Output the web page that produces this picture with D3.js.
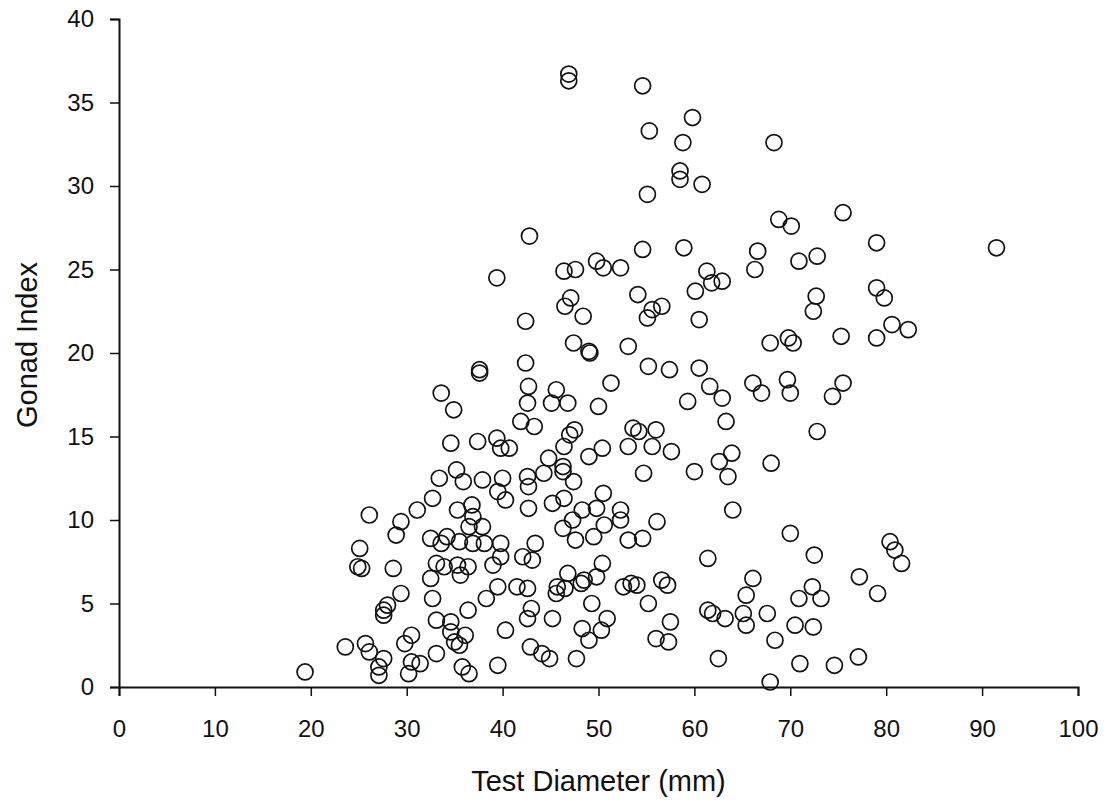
<!DOCTYPE html>
<html>
<head>
<meta charset="utf-8">
<script src="https://cdn.jsdelivr.net/npm/d3@7"></script>
<style>
  html, body { margin: 0; padding: 0; background: #fff; }
  svg { display: block; }
  text { font-family: "Liberation Sans", Arial, sans-serif; fill: #111; }
</style>
</head>
<body>
<svg id="chart" width="1107" height="807"></svg>
<script>
// Test diameter (mm) of each urchin
const testDiameter = [
  19.4,23.6,25.7,26.1,27.6,27.1,27.1,30.5,29.8,30.5,31.4,30.2,33.1,28.0,27.6,27.6,29.4,32.7,33.1,32.5,
  28.6,25.1,24.9,25.3,33.1,32.5,33.6,28.9,29.4,26.1,31.1,32.7,33.4,33.6,
  42.8,39.4,42.4,42.4,37.6,37.6,42.7,45.6,
  46.9,46.9,54.6,59.8,55.3,58.8,68.3,58.5,58.5,60.8,55.1,68.8,70.1,54.6,58.9,66.6,66.3,70.9,46.4,47.6,
  49.8,50.5,52.3,61.3,61.8,62.9,60.1,54.1,47.1,46.5,48.4,55.6,56.6,55.1,60.5,47.4,49.0,49.1,53.1,67.9,
  69.8,70.3,55.2,57.4,60.5,51.3,61.6,66.1,69.7,
  75.5,79.0,91.5,72.8,72.7,72.4,79.0,79.8,80.6,82.3,75.3,79.0,75.5,
  34.9,42.6,45.1,46.8,50.0,59.3,41.9,43.3,34.6,37.4,39.4,39.8,40.7,47.5,47.0,46.4,49.0,50.4,53.6,54.2,
  56.0,53.1,55.6,57.6,44.8,46.3,46.3,44.3,47.4,54.7,60.0,35.2,35.9,37.9,40.0,39.5,40.3,42.6,42.7,42.7,
  35.3,36.8,36.9,36.5,37.9,45.2,46.4,50.5,49.8,48.3,47.3,46.3,47.6,49.5,50.6,52.3,52.3,56.1,53.1,54.6,
  34.2,35.5,36.9,38.1,39.8,43.4,42.1,43.1,39.8,39.0,33.9,35.3,36.4,35.6,50.4,46.8,49.8,48.5,48.2,45.7,
  45.6,46.5,41.5,42.6,39.5,38.3,52.6,53.4,54.0,56.6,57.2,49.3,55.2,36.4,43.0,42.6,45.2,34.6,34.6,36.1,
  35.0,35.5,40.3,48.3,50.9,50.3,49.0,57.5,56.0,57.3,42.9,44.1,44.9,47.7,39.5,35.8,36.5,
  62.9,67.0,70.0,74.4,63.3,72.8,63.9,62.6,63.5,68.0,64.0,70.0,61.4,72.5,80.4,80.9,81.6,77.2,79.1,66.1,
  65.4,65.1,65.4,61.4,61.9,63.2,67.6,70.9,72.3,73.2,70.5,72.4,68.4,62.5,71.0,74.6,77.1,67.9
];
// Gonad index of each urchin (same order)
const gonadIndex = [
  0.9,2.4,2.6,2.1,1.7,1.2,0.7,3.1,2.6,1.5,1.4,0.8,2.0,4.9,4.6,4.3,5.6,5.3,4.0,6.5,
  7.1,8.3,7.2,7.1,7.4,8.9,8.6,9.1,9.9,10.3,10.6,11.3,12.5,17.6,
  27.0,24.5,21.9,19.4,19.0,18.8,18.0,17.8,
  36.7,36.3,36.0,34.1,33.3,32.6,32.6,30.9,30.4,30.1,29.5,28.0,27.6,26.2,26.3,26.1,25.0,25.5,24.9,25.0,
  25.5,25.1,25.1,24.9,24.2,24.3,23.7,23.5,23.3,22.8,22.2,22.6,22.8,22.1,22.0,20.6,20.1,20.0,20.4,20.6,
  20.9,20.6,19.2,19.0,19.1,18.2,18.0,18.2,18.4,
  28.4,26.6,26.3,25.8,23.4,22.5,23.9,23.3,21.7,21.4,21.0,20.9,18.2,
  16.6,17.0,17.0,17.0,16.8,17.1,15.9,15.6,14.6,14.7,14.9,14.3,14.3,15.4,15.1,14.4,13.8,14.3,15.5,15.3,
  15.4,14.4,14.4,14.1,13.7,13.2,12.9,12.8,12.3,12.8,12.9,13.0,12.3,12.4,12.5,11.7,11.2,12.6,12.0,10.7,
  10.6,10.9,10.2,9.6,9.6,11.0,11.3,11.6,10.7,10.6,10.0,9.5,8.8,9.0,9.7,10.6,10.0,9.9,8.8,8.9,
  9.0,8.7,8.6,8.6,8.6,8.6,7.8,7.6,7.8,7.3,7.2,7.3,7.2,6.7,7.4,6.8,6.6,6.4,6.2,6.0,
  5.6,5.9,6.0,5.9,6.0,5.3,6.0,6.2,6.1,6.4,6.1,5.0,5.0,4.6,4.7,4.1,4.1,3.9,3.3,3.1,
  2.7,2.5,3.4,3.5,4.1,3.4,2.8,3.9,2.9,2.7,2.4,2.0,1.7,1.7,1.3,1.2,0.8,
  17.3,17.6,17.6,17.4,15.9,15.3,14.0,13.5,12.6,13.4,10.6,9.2,7.7,7.9,8.7,8.2,7.4,6.6,5.6,6.5,
  5.5,4.4,3.7,4.6,4.4,4.1,4.4,5.3,6.0,5.3,3.7,3.6,2.8,1.7,1.4,1.3,1.8,0.3
];
const xTicks = [0,10,20,30,40,50,60,70,80,90,100];
const yTicks = [0,5,10,15,20,25,30,35,40];
const xTitle = "Test Diameter (mm)";
const yTitle = "Gonad Index";

const svg = d3.select("#chart");
const x = d3.scaleLinear().domain([0, 100]).range([119, 1078]);
const y = d3.scaleLinear().domain([0, 40]).range([687, 19]);

const points = testDiameter.map((d, i) => ({ x: d, y: gonadIndex[i] }));

// points
svg.append("g")
  .selectAll("circle")
  .data(points)
  .join("circle")
  .attr("cx", d => x(d.x))
  .attr("cy", d => y(d.y))
  .attr("r", 8)
  .attr("fill", "none")
  .attr("stroke", "#111")
  .attr("stroke-width", 1.7);

// x axis
const gx = svg.append("g")
  .attr("transform", `translate(0,${y(0)})`)
  .call(d3.axisBottom(x).tickValues(xTicks).tickFormat(d3.format("d"))
    .tickSize(9).tickSizeOuter(9).tickPadding(24));
// y axis
const gy = svg.append("g")
  .attr("transform", `translate(${x(0)},0)`)
  .call(d3.axisLeft(y).tickValues(yTicks).tickFormat(d3.format("d"))
    .tickSize(9).tickSizeOuter(9).tickPadding(16));

[gx, gy].forEach(g => {
  g.select(".domain").attr("stroke", "#111").attr("stroke-width", 2);
  g.selectAll(".tick line").attr("stroke", "#111").attr("stroke-width", 1.5);
  g.selectAll(".tick text")
    .attr("fill", "#111")
    .style("font-family", '"Liberation Sans", Arial, sans-serif')
    .style("font-size", "24px");
});

// titles
svg.append("text")
  .attr("x", (x(0) + x(100)) / 2)
  .attr("y", 791)
  .attr("text-anchor", "middle")
  .style("font-size", "29px")
  .text(xTitle);

svg.append("text")
  .attr("transform", `translate(37,345) rotate(-90)`)
  .attr("text-anchor", "middle")
  .style("font-size", "29px")
  .text(yTitle);
</script>
</body>
</html>
